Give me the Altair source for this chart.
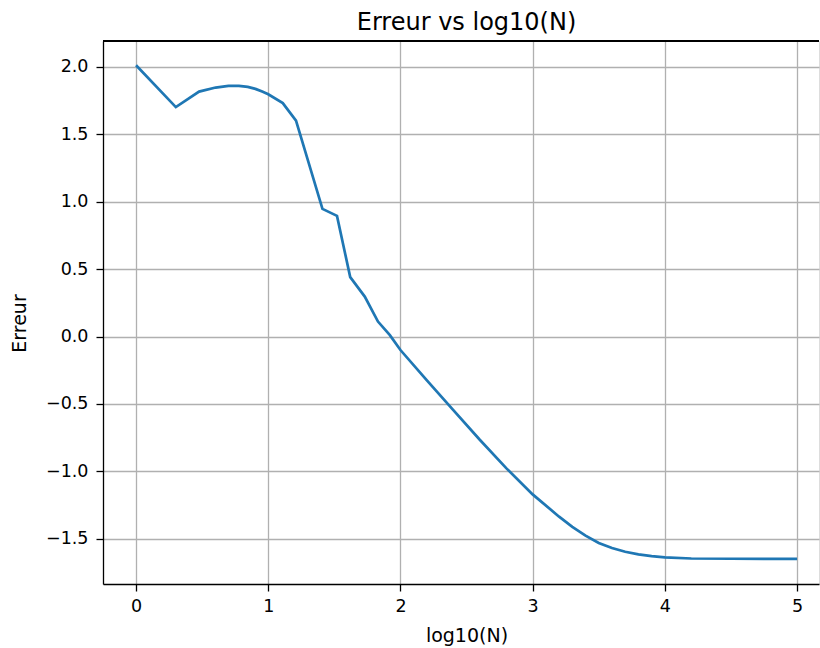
import altair as alt
import pandas as pd

log10_n = [0.0, 0.301, 0.477, 0.602, 0.699, 0.778, 0.845, 0.903, 0.954, 1.0,
           1.11, 1.21, 1.41, 1.52, 1.62, 1.73, 1.83, 1.92, 2.0, 2.2, 2.4, 2.6,
           2.8, 3.0, 3.2, 3.3, 3.4, 3.5, 3.6, 3.7, 3.8, 3.9, 4.0, 4.2, 4.5, 5.0]
erreur = [2.01, 1.70, 1.815, 1.845, 1.858, 1.858, 1.85, 1.835, 1.815, 1.795,
          1.73, 1.60, 0.946, 0.894, 0.44, 0.296, 0.111, 0.01, -0.10, -0.325, -0.545, -0.765,
          -0.975, -1.17, -1.335, -1.41, -1.475, -1.53, -1.567, -1.595, -1.614, -1.627,
          -1.637, -1.645, -1.647, -1.648]

x_ticks = [0, 1, 2, 3, 4, 5]
y_ticks = [-1.5, -1.0, -0.5, 0.0, 0.5, 1.0, 1.5, 2.0]

df = pd.DataFrame({"log10(N)": log10_n, "Erreur": erreur})

FONT = "DejaVu Sans"
W, H = 716, 543

line = alt.Chart(df).mark_line(color="#1f77b4", strokeWidth=2.7, clip=True).encode(
    x=alt.X("log10(N):Q",
            scale=alt.Scale(domain=[-0.25, 5.166], nice=False, zero=False),
            axis=alt.Axis(values=x_ticks, format="d", title="log10(N)",
                          titleX=363.5, titleY=57, titleBaseline="alphabetic",
                          titleAlign="center", titleFontWeight="normal",
                          titleFontSize=19, titleFont=FONT, titleColor="black",
                          labelFont=FONT, labelFontSize=17.5, labelColor="black",
                          labelPadding=6, tickSize=7, tickWidth=1.3, tickColor="black",
                          domainColor="black", domainWidth=1.3,
                          grid=True, gridColor="#b0b0b0", gridWidth=1.3,
                          labelFlush=False)),
    y=alt.Y("Erreur:Q",
            scale=alt.Scale(domain=[-1.834, 2.19], nice=False, zero=False),
            axis=alt.Axis(values=y_ticks, format=".1f", title="Erreur",
                          titleX=-78, titleY=282, titleAngle=270,
                          titleBaseline="alphabetic", titleAlign="center",
                          titleFontWeight="normal", titleFontSize=19, titleFont=FONT,
                          titleColor="black",
                          labelFont=FONT, labelFontSize=17.5, labelColor="black",
                          labelPadding=8, tickSize=7, tickWidth=1.3, tickColor="black",
                          domainColor="black", domainWidth=1.3,
                          grid=True, gridColor="#b0b0b0", gridWidth=1.3,
                          labelFlush=False)),
)

top_border = alt.Chart(df).mark_rule(color="black", strokeWidth=1.3).encode(
    x=alt.value(0), x2=alt.value(W), y=alt.value(0)
)

chart = alt.layer(line, top_border).properties(
    width=W, height=H,
    title=alt.TitleParams("Erreur vs log10(N)", font=FONT, fontSize=24,
                          fontWeight="normal", color="black", anchor="middle",
                          dx=5.5, dy=25, offset=11, baseline="alphabetic"),
    autosize=alt.AutoSizeParams(type="none"),
    padding={"left": 103, "top": 41, "right": 1, "bottom": 64},
).configure_view(stroke=None).configure(background="white")

chart.save("out.html", embed_options={"renderer": "svg", "actions": False})
